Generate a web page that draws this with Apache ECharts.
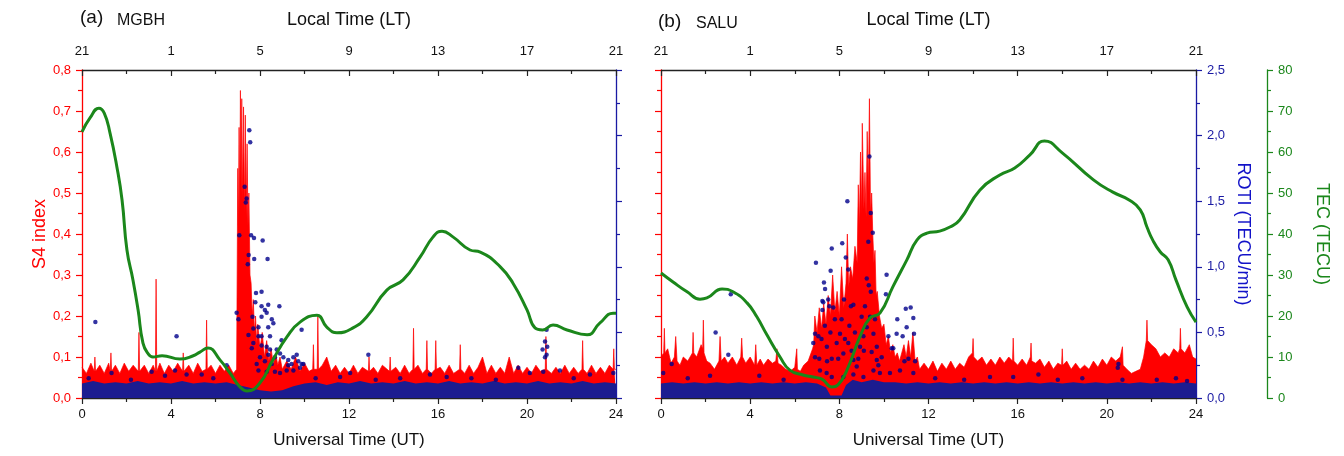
<!DOCTYPE html>
<html><head><meta charset="utf-8">
<script src="https://cdn.jsdelivr.net/npm/echarts@6/dist/echarts.min.js"></script>
<style>html,body{margin:0;padding:0;background:#fff}#c{width:1344px;height:456px}</style>
</head><body><div id="c"></div>
<script>
// ---------- DATA ----------
const utTicks = [0, 4, 8, 12, 16, 20, 24];
const ltTickLabels = ['21', '1', '5', '9', '13', '17', '21'];
const panelLetters = ['(a)', '(b)'];
const stations = ['MGBH', 'SALU'];

// S4 index [UT hour, S4]
const s4A = [
[0,0.075],[0.2,0.06],[0.4,0.085],[0.55,0.065],[0.58,0.1],[0.61,0.065],[0.8,0.08],[1.0,0.06],[1.2,0.085],[1.27,0.065],[1.3,0.11],[1.33,0.065],[1.5,0.08],[1.7,0.06],[1.9,0.085],[2.1,0.065],[2.3,0.08],[2.53,0.065],[2.56,0.16],[2.59,0.065],[2.8,0.08],[3.0,0.06],[3.2,0.08],[3.3,0.065],[3.33,0.29],[3.36,0.065],[3.5,0.085],[3.7,0.06],[3.9,0.08],[4.1,0.065],[4.3,0.085],[4.52,0.065],[4.55,0.11],[4.58,0.065],[4.8,0.08],[5.0,0.06],[5.2,0.085],[5.4,0.065],[5.57,0.07],[5.6,0.19],[5.63,0.07],[5.8,0.08],[6.0,0.06],[6.2,0.08],[6.4,0.065],[6.6,0.08],[6.8,0.06],[6.95,0.07],
[7.0,0.56],[7.03,0.42],[7.06,0.66],[7.09,0.45],[7.12,0.75],[7.15,0.5],[7.18,0.73],[7.22,0.48],[7.26,0.71],[7.3,0.45],[7.34,0.69],[7.38,0.44],[7.42,0.62],[7.46,0.42],[7.5,0.5],[7.55,0.3],[7.6,0.28],[7.65,0.2],[7.7,0.24],[7.75,0.16],[7.8,0.2],[7.85,0.13],[7.9,0.18],[8.0,0.12],[8.1,0.16],[8.2,0.1],[8.3,0.14],[8.4,0.09],[8.5,0.12],[8.6,0.08],[8.7,0.11],[8.8,0.08],[8.9,0.1],[9.0,0.07],[9.2,0.09],[9.4,0.07],[9.6,0.1],[9.8,0.065],[10.0,0.085],[10.2,0.065],[10.37,0.07],[10.4,0.13],[10.43,0.07],[10.57,0.07],[10.6,0.2],[10.63,0.07],[10.8,0.08],[11.0,0.1],[11.2,0.065],[11.4,0.08],[11.6,0.06],[11.8,0.075],[12.0,0.06],[12.2,0.08],[12.4,0.06],[12.6,0.075],[12.87,0.065],[12.9,0.1],[12.93,0.065],[13.1,0.075],[13.3,0.06],[13.5,0.08],[13.82,0.065],[13.85,0.1],[13.88,0.065],[14.1,0.075],[14.3,0.06],[14.5,0.08],[14.7,0.06],[14.87,0.07],[14.9,0.17],[14.93,0.07],[15.1,0.08],[15.3,0.06],[15.47,0.07],[15.5,0.14],[15.53,0.07],[15.7,0.06],[15.87,0.07],[15.9,0.14],[15.93,0.07],[16.1,0.075],[16.3,0.06],[16.5,0.08],[16.7,0.06],[16.97,0.07],[17.0,0.13],[17.03,0.07],[17.2,0.06],[17.4,0.08],[17.6,0.06],[17.8,0.075],[18.0,0.1],[18.2,0.06],[18.4,0.08],[18.6,0.06],[18.8,0.075],[19.0,0.06],[19.2,0.1],[19.4,0.06],[19.6,0.08],[19.8,0.06],[20.0,0.075],[20.2,0.06],[20.4,0.08],[20.6,0.065],[20.82,0.07],[20.85,0.15],[20.88,0.07],[21.1,0.06],[21.3,0.075],[21.5,0.06],[21.7,0.08],[21.9,0.06],[22.1,0.075],[22.3,0.06],[22.47,0.07],[22.5,0.14],[22.53,0.07],[22.7,0.06],[22.9,0.08],[23.1,0.06],[23.3,0.075],[23.5,0.06],[23.7,0.08],[23.87,0.07],[23.9,0.12],[23.93,0.07],[24,0.07]
];
const s4B = [
[0,0.1],[0.12,0.11],[0.15,0.17],[0.18,0.11],[0.3,0.12],[0.45,0.085],[0.6,0.1],[0.66,0.15],[0.72,0.09],[0.85,0.08],[1.0,0.1],[1.2,0.09],[1.41,0.11],[1.44,0.16],[1.47,0.11],[1.6,0.1],[1.8,0.13],[1.87,0.12],[1.9,0.19],[1.93,0.11],[2.05,0.09],[2.2,0.085],[2.4,0.07],[2.6,0.09],[2.65,0.15],[2.7,0.09],[2.85,0.1],[3.0,0.085],[3.2,0.1],[3.4,0.08],[3.58,0.1],[3.62,0.146],[3.66,0.1],[3.8,0.085],[4.0,0.1],[4.2,0.08],[4.25,0.13],[4.3,0.08],[4.45,0.095],[4.6,0.08],[4.8,0.095],[5.0,0.085],[5.15,0.09],[5.2,0.12],[5.25,0.085],[5.4,0.08],[5.6,0.07],[5.8,0.065],[6.0,0.075],[6.06,0.075],[6.09,0.12],[6.12,0.07],[6.25,0.065],[6.4,0.08],[6.6,0.09],[6.8,0.12],
[6.85,0.13],[6.9,0.2],[7.0,0.16],[7.1,0.22],[7.2,0.17],[7.3,0.23],[7.4,0.18],[7.5,0.25],[7.6,0.2],[7.7,0.3],[7.8,0.21],[7.9,0.26],[8.0,0.2],[8.1,0.32],[8.2,0.22],[8.3,0.28],[8.36,0.4],[8.42,0.27],[8.5,0.32],[8.6,0.29],[8.7,0.37],[8.8,0.33],[8.85,0.52],[8.9,0.42],[8.95,0.6],[9.0,0.45],[9.03,0.67],[9.1,0.46],[9.15,0.55],[9.2,0.44],[9.25,0.65],[9.3,0.5],[9.35,0.73],[9.4,0.45],[9.45,0.5],[9.5,0.4],[9.55,0.33],[9.6,0.36],[9.65,0.25],[9.7,0.26],[9.8,0.2],[9.9,0.17],[10.0,0.18],[10.1,0.13],[10.2,0.15],[10.3,0.11],[10.4,0.13],[10.5,0.1],[10.6,0.11],[10.7,0.09],[10.8,0.11],[10.9,0.13],[11.0,0.1],[11.1,0.14],[11.2,0.1],[11.3,0.16],[11.4,0.09],[11.5,0.1],
[11.6,0.07],[11.8,0.085],[12.0,0.07],[12.2,0.09],[12.4,0.065],[12.6,0.085],[12.8,0.07],[13.0,0.09],[13.2,0.07],[13.4,0.085],[13.6,0.075],[13.8,0.1],[13.97,0.11],[14.0,0.145],[14.03,0.1],[14.2,0.09],[14.4,0.1],[14.6,0.08],[14.8,0.095],[15.0,0.08],[15.2,0.1],[15.4,0.085],[15.6,0.1],[15.77,0.09],[15.8,0.146],[15.83,0.09],[16.0,0.08],[16.2,0.095],[16.4,0.08],[16.57,0.1],[16.6,0.134],[16.63,0.09],[16.8,0.085],[17.0,0.095],[17.2,0.075],[17.4,0.09],[17.6,0.07],[17.8,0.085],[17.97,0.08],[18.0,0.12],[18.03,0.08],[18.2,0.09],[18.4,0.07],[18.6,0.085],[18.8,0.07],[19.0,0.08],[19.2,0.07],[19.4,0.09],[19.6,0.075],[19.8,0.095],[20.0,0.08],[20.2,0.1],[20.4,0.09],[20.6,0.1],[20.67,0.1],[20.7,0.125],[20.73,0.08],[20.9,0.07],[21.1,0.06],[21.3,0.065],[21.5,0.07],[21.65,0.1],[21.77,0.14],[21.8,0.19],[21.83,0.14],[22.0,0.13],[22.2,0.12],[22.4,0.1],[22.6,0.11],[22.8,0.1],[23.0,0.12],[23.2,0.11],[23.27,0.12],[23.3,0.17],[23.33,0.12],[23.5,0.11],[23.7,0.13],[23.85,0.1],[24,0.095]
];

// ROTI dense background level (upper edge of the dense dot cloud) [UT, ROTI]
const rotiBandA = [[0,0.11],[0.5,0.13],[1,0.11],[1.5,0.12],[2,0.11],[2.5,0.13],[3,0.11],[3.5,0.12],[4,0.11],[4.5,0.13],[5,0.11],[5.5,0.12],[6,0.11],[6.5,0.12],[7,0.1],[7.5,0.08],[8,0.06],[8.5,0.05],[9,0.06],[9.5,0.09],[10,0.11],[10.5,0.12],[11,0.1],[11.5,0.12],[12,0.11],[12.5,0.13],[13,0.11],[13.5,0.12],[14,0.11],[14.5,0.13],[15,0.11],[15.5,0.12],[16,0.11],[16.5,0.13],[17,0.11],[17.5,0.12],[18,0.11],[18.5,0.13],[19,0.11],[19.5,0.12],[20,0.11],[20.5,0.13],[21,0.11],[21.5,0.12],[22,0.11],[22.5,0.13],[23,0.11],[23.5,0.12],[24,0.11]];
const rotiBandB = [[0,0.11],[0.5,0.12],[1,0.11],[1.5,0.12],[2,0.11],[2.5,0.12],[3,0.11],[3.5,0.12],[4,0.11],[4.5,0.12],[5,0.11],[5.5,0.12],[6,0.11],[6.5,0.12],[7,0.11],[7.4,0.08],[7.6,0.02],[8.1,0.02],[8.3,0.1],[8.6,0.14],[9,0.12],[9.5,0.14],[10,0.12],[10.5,0.12],[11,0.11],[11.5,0.12],[12,0.11],[12.5,0.12],[13,0.11],[13.5,0.12],[14,0.11],[14.5,0.12],[15,0.11],[15.5,0.12],[16,0.11],[16.5,0.12],[17,0.11],[17.5,0.12],[18,0.11],[18.5,0.12],[19,0.11],[19.5,0.12],[20,0.11],[20.5,0.12],[21,0.11],[21.5,0.12],[22,0.11],[22.5,0.12],[23,0.11],[23.5,0.12],[24,0.11]];

// ROTI individual points [UT, ROTI]
const rotiA = [
[0.3,0.15],[0.6,0.58],[1.33,0.19],[2.2,0.14],[3.13,0.2],[3.73,0.17],[4.18,0.21],[4.25,0.47],[4.7,0.18],[5.38,0.18],[5.9,0.15],[6.5,0.25],
[6.95,0.65],[7.03,0.6],[7.07,1.24],[7.31,1.61],[7.36,1.49],[7.4,1.52],[7.45,1.02],[7.48,0.48],[7.49,1.09],[7.52,2.04],[7.56,1.95],[7.6,1.24],[7.63,0.38],[7.66,0.62],[7.7,0.42],[7.7,0.53],[7.73,1.22],[7.74,1.06],[7.79,0.73],[7.82,0.8],[7.85,0.26],[7.93,0.54],[7.93,0.47],[7.93,0.21],[8.0,0.31],[8.07,0.81],[8.07,0.7],[8.07,0.62],[8.07,0.47],[8.07,0.4],[8.12,1.2],[8.22,0.67],[8.22,0.28],[8.3,0.65],[8.3,0.39],[8.3,0.2],[8.34,1.06],[8.37,0.71],[8.37,0.54],[8.37,0.33],[8.45,0.47],[8.45,0.37],[8.53,0.6],[8.53,0.26],[8.6,0.57],[8.67,0.31],[8.67,0.2],[8.75,0.37],[8.87,0.7],[8.9,0.34],[8.9,0.19],[8.97,0.44],[9.05,0.31],[9.2,0.21],[9.27,0.29],[9.27,0.25],[9.42,0.26],[9.5,0.31],[9.5,0.21],[9.65,0.33],[9.72,0.28],[9.8,0.23],[9.87,0.52],[9.87,0.26],[9.95,0.26],
[10.5,0.15],[11.6,0.16],[12.05,0.19],[12.87,0.33],[13.2,0.14],[14.3,0.15],[15.64,0.18],[16.39,0.16],[17.5,0.15],[18.6,0.14],[19.61,0.23],[20.13,0.19],[20.7,0.37],[20.73,0.2],[20.81,0.43],[20.81,0.31],[20.88,0.52],[20.88,0.33],[20.91,0.39],[21.48,0.21],[22.1,0.15],[22.83,0.18],[23.88,0.19]
];
const rotiB = [
[0.1,0.19],[0.48,0.26],[1.2,0.15],[2.2,0.17],[2.45,0.5],[3.02,0.33],[3.13,0.79],[4.41,0.17],[5.5,0.14],
[6.83,0.42],[6.91,0.49],[6.91,0.31],[6.95,1.03],[7.06,0.47],[7.1,0.3],[7.13,0.21],[7.2,0.45],[7.24,0.74],[7.24,0.67],[7.28,0.73],[7.31,0.88],[7.35,0.55],[7.36,0.83],[7.43,0.19],[7.44,0.39],[7.45,0.28],[7.5,0.75],[7.55,0.7],[7.6,0.5],[7.61,0.97],[7.66,1.14],[7.66,0.3],[7.66,0.16],[7.73,0.69],[7.8,0.6],[7.88,0.42],[7.95,0.3],[8.03,0.49],[8.1,0.6],[8.13,1.18],[8.18,0.34],[8.18,0.16],[8.21,0.75],[8.25,0.45],[8.29,1.07],[8.36,1.5],[8.4,0.98],[8.4,0.42],[8.45,0.55],[8.52,0.7],[8.55,0.36],[8.63,0.71],[8.63,0.29],[8.63,0.18],[8.7,0.5],[8.78,0.24],[8.85,0.3],[8.93,0.39],[9.0,0.62],[9.08,0.47],[9.08,0.16],[9.1,0.36],[9.15,0.7],[9.23,0.91],[9.23,0.54],[9.3,1.19],[9.32,0.86],[9.35,1.84],[9.38,0.62],[9.41,0.81],[9.41,1.41],[9.45,0.35],[9.5,1.26],[9.53,0.49],[9.53,0.21],[9.6,0.6],[9.68,0.39],[9.68,0.29],[9.75,0.25],[9.82,0.19],[9.9,0.31],[10.09,0.79],[10.12,0.94],[10.2,0.47],[10.27,0.19],[10.35,0.38],[10.42,0.38],[10.57,0.49],[10.6,0.6],[10.72,0.21],[10.84,0.47],[10.92,0.28],[10.98,0.68],[11.02,0.54],[11.1,0.3],[11.2,0.69],[11.32,0.61],[11.32,0.19],[11.35,0.49],[11.4,0.28],
[12.3,0.15],[13.6,0.14],[14.76,0.16],[15.8,0.16],[16.93,0.18],[17.8,0.14],[18.9,0.15],[20.49,0.23],[20.52,0.26],[20.7,0.14],[22.24,0.14],[23.1,0.15],[23.6,0.13]
];

// TEC [UT, TECU]
const tecA = [[0,64.9],[0.36,68.3],[0.76,70.7],[1.0,69.5],[1.26,64.6],[1.57,56.3],[1.8,48.3],[2.02,36.1],[2.29,28.8],[2.52,21.5],[2.74,13.4],[2.97,10.8],[3.19,10.0],[3.6,10.3],[4.4,9.5],[5.0,10.3],[5.3,11.2],[5.66,12.2],[6.2,9.3],[6.65,6.1],[7.1,2.7],[7.42,1.7],[8.0,3.7],[8.58,9.3],[9.21,14.9],[9.8,18.5],[10.56,20.2],[11.0,17.3],[11.46,15.9],[12.18,17.1],[12.8,19.8],[13.7,26.3],[14.43,28.8],[15.2,34.4],[15.78,39.3],[16.18,40.7],[16.67,39.3],[17.44,36.1],[17.9,35.6],[18.8,32],[19.37,28],[20.0,21.5],[20.36,17.1],[20.7,16.6],[21.17,17.8],[21.8,16.6],[22.7,15.4],[23.28,18.3],[23.87,20.7],[24,20.7]];
const tecB = [[0,30.5],[0.54,28.3],[1.17,25.9],[1.75,24.1],[2.06,24.4],[2.74,26.6],[3.23,25.9],[3.86,23.2],[4.3,19.8],[4.75,15.4],[5.34,10],[5.78,6.8],[6.37,5.6],[6.82,5.1],[7.22,4.6],[7.67,2.7],[7.94,3.2],[8.34,6.8],[8.92,14.9],[9.37,19.5],[9.82,20.7],[10.4,27.1],[11.03,33.7],[11.48,38.5],[11.93,40.2],[12.5,40.7],[12.96,41.7],[13.4,43.4],[14.3,50.7],[15.2,54.4],[15.87,56.1],[16.55,59.3],[17.2,62.7],[18.0,59.8],[19.4,53.2],[20.27,50.2],[21.0,48.3],[21.5,45.9],[21.8,41.7],[22.06,38.5],[22.4,35.6],[22.75,33.7],[23.1,28.8],[23.6,22.2],[24,18.5]];

// ---------- STYLE ----------
const FONT = '"Liberation Sans", Arial, sans-serif';
const RED = '#ff0000', BLUE = '#1a1aa3', NAVY = '#00008b', BANDNAVY = '#1c1c90', GREEN = '#1b871b', BLACK = '#222';
const comma = v => v.toFixed(1).replace('.', ',');

function xBottom(g) {
  return { type:'value', gridIndex:g, position:'bottom', min:0, max:24, interval:4,
    axisLine:{show:true, onZero:false, lineStyle:{color:BLACK, width:1.3}},
    axisTick:{show:true, inside:false, length:6, lineStyle:{color:BLACK, width:1.2}},
    minorTick:{show:true, splitNumber:2, length:4, lineStyle:{color:BLACK, width:1.2}},
    splitLine:{show:false}, minorSplitLine:{show:false},
    axisLabel:{color:'#111', fontSize:13, margin:10, fontFamily:FONT, showMinLabel:true, showMaxLabel:true},
    name:'Universal Time (UT)', nameLocation:'middle', nameGap:34, nameMoveOverlap:false,
    nameTextStyle:{fontSize:17, color:'#111', fontFamily:FONT} };
}
function xTop(g) {
  return { type:'value', gridIndex:g, position:'top', min:0, max:24, interval:4,
    axisLine:{show:true, onZero:false, lineStyle:{color:BLACK, width:1.3}},
    axisTick:{show:true, inside:true, length:6, lineStyle:{color:BLACK, width:1.2}},
    minorTick:{show:true, splitNumber:2, length:4, lineStyle:{color:BLACK, width:1.2}},
    splitLine:{show:false}, minorSplitLine:{show:false},
    axisLabel:{color:'#111', fontSize:13, margin:12, fontFamily:FONT, showMinLabel:true, showMaxLabel:true,
      formatter: v => ltTickLabels[utTicks.indexOf(v)]},
    name:'Local Time (LT)', nameLocation:'middle', nameGap:41, nameMoveOverlap:false,
    nameTextStyle:{fontSize:18, color:'#111', fontFamily:FONT} };
}
function yS4(g, labels) {
  return { type:'value', gridIndex:g, position:'left', min:0, max:0.8, interval:0.1,
    axisLine:{show:true, onZero:false, lineStyle:{color:RED, width:1.3}},
    axisTick:{show:true, inside:false, length:6, lineStyle:{color:RED, width:1.2}},
    minorTick:{show:true, splitNumber:2, length:4, lineStyle:{color:RED, width:1.2}},
    splitLine:{show:false}, minorSplitLine:{show:false},
    axisLabel:{show:labels, color:RED, fontSize:13, margin:11, fontFamily:FONT, formatter:comma, showMinLabel:true, showMaxLabel:true},
    name: labels ? 'S4 index' : '', nameLocation:'middle', nameGap:33, nameMoveOverlap:false,
    nameTextStyle:{fontSize:18, color:RED, fontFamily:FONT} };
}
function yRoti(g, labels) {
  return { type:'value', gridIndex:g, position:'right', min:0, max:2.5, interval:0.5,
    axisLine:{show:true, onZero:false, lineStyle:{color:BLUE, width:1.3}},
    axisTick:{show:true, inside:false, length:6, lineStyle:{color:BLUE, width:1.2}},
    minorTick:{show:true, splitNumber:2, length:4, lineStyle:{color:BLUE, width:1.2}},
    splitLine:{show:false}, minorSplitLine:{show:false},
    axisLabel:{show:labels, color:BLUE, fontSize:13, margin:11, fontFamily:FONT, formatter:comma, showMinLabel:true, showMaxLabel:true},
    name: labels ? 'ROTI (TECU/min)' : '', nameLocation:'middle', nameGap:38, nameRotate:-90, nameMoveOverlap:false,
    nameTextStyle:{fontSize:18, color:'#1212c8', fontFamily:FONT} };
}
function yTec(g, visible) {
  return { type:'value', gridIndex:g, position:'right', offset:71, min:0, max:80, interval:10, show:visible,
    axisLine:{show:true, onZero:false, lineStyle:{color:GREEN, width:1.3}},
    axisTick:{show:true, inside:false, length:6, lineStyle:{color:GREEN, width:1.2}},
    minorTick:{show:true, splitNumber:2, length:4, lineStyle:{color:GREEN, width:1.2}},
    splitLine:{show:false}, minorSplitLine:{show:false},
    axisLabel:{color:GREEN, fontSize:13, margin:11, fontFamily:FONT, showMinLabel:true, showMaxLabel:true},
    name:'TEC (TECU)', nameLocation:'middle', nameGap:46, nameRotate:-90, nameMoveOverlap:false,
    nameTextStyle:{fontSize:18, color:GREEN, fontFamily:FONT} };
}

function panelSeries(xi, yi, s4, band, roti, tec) {
  return [
    { type:'line', xAxisIndex:xi, yAxisIndex:yi, data:s4, symbol:'none', showSymbol:false,
      lineStyle:{color:RED, width:0.7}, areaStyle:{color:RED, opacity:1}, z:1, silent:true },
    { type:'line', xAxisIndex:xi, yAxisIndex:yi+1, data:band, symbol:'none', showSymbol:false,
      lineStyle:{color:BANDNAVY, width:0}, areaStyle:{color:BANDNAVY, opacity:1}, z:2, silent:true },
    { type:'scatter', xAxisIndex:xi, yAxisIndex:yi+1, data:roti, symbolSize:4.5,
      itemStyle:{color:NAVY}, z:3, silent:true },
    { type:'line', xAxisIndex:xi, yAxisIndex:yi+2, data:tec, smooth:true, symbol:'none', showSymbol:false,
      lineStyle:{color:GREEN, width:3}, z:4, silent:true }
  ];
}

const chart = echarts.init(document.getElementById('c'), null, {renderer:'canvas'});
chart.setOption({
  animation:false,
  backgroundColor:'#fff',
  grid:[
    {left:82, top:70, width:534, height:328},
    {left:661, top:70, width:535, height:328}
  ],
  xAxis:[xBottom(0), xTop(0), xBottom(1), xTop(1)],
  yAxis:[yS4(0,true), yRoti(0,false), yTec(0,false), yS4(1,false), yRoti(1,true), yTec(1,true)],
  series:[
    ...panelSeries(0, 0, s4A, rotiBandA, rotiA, tecA),
    ...panelSeries(2, 3, s4B, rotiBandB, rotiB, tecB)
  ],
  graphic:[
    {type:'text', left:80, top:8, style:{text:panelLetters[0], fontSize:19, fill:'#111', fontFamily:FONT}},
    {type:'text', left:117, top:13, style:{text:stations[0], fontSize:16, fill:'#111', fontFamily:FONT}},
    {type:'text', left:658, top:12, style:{text:panelLetters[1], fontSize:19, fill:'#111', fontFamily:FONT}},
    {type:'text', left:696, top:16, style:{text:stations[1], fontSize:16, fill:'#111', fontFamily:FONT}}
  ]
});
</script></body></html>
